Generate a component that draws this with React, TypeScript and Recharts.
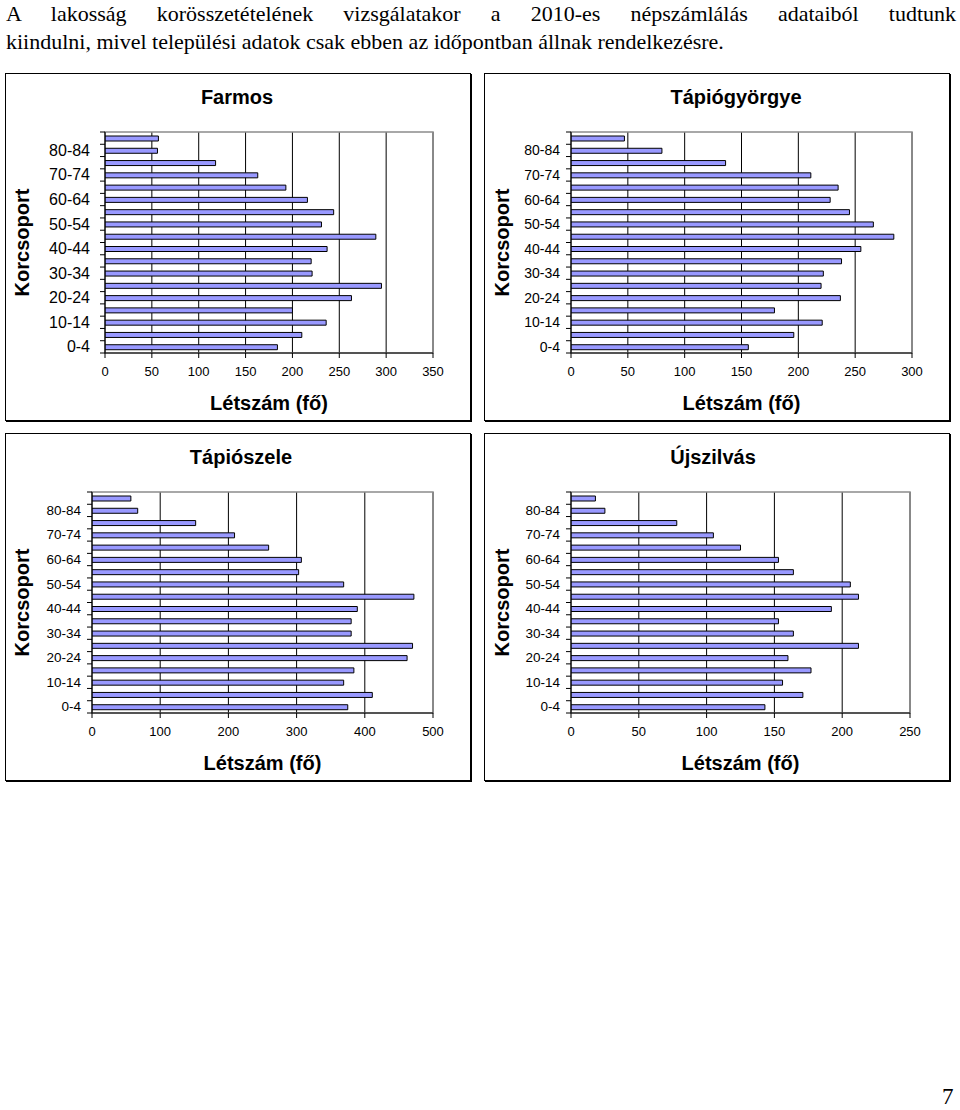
import React from 'react';
import { BarChart, Bar, XAxis, YAxis, CartesianGrid, ReferenceArea } from 'recharts';

// Age groups (bottom to top)
const AGE_GROUPS = ['0-4', '5-9', '10-14', '15-19', '20-24', '25-29', '30-34', '35-39', '40-44', '45-49', '50-54', '55-59', '60-64', '65-69', '70-74', '75-79', '80-84', '85+'];
const LABELED_GROUPS = ['0-4', '10-14', '20-24', '30-34', '40-44', '50-54', '60-64', '70-74', '80-84'];

// Population per age group (same order as AGE_GROUPS)
const FARMOS = [184, 210, 236, 200, 263, 295, 221, 220, 237, 289, 231, 244, 216, 193, 163, 118, 56, 57];
const TAPIOGYORGYE = [156, 196, 221, 179, 237, 220, 222, 238, 255, 284, 266, 245, 228, 235, 211, 136, 80, 47];
const TAPIOSZELE = [375, 411, 369, 384, 462, 470, 380, 380, 389, 472, 369, 303, 307, 259, 209, 152, 67, 57];
const UJSZILVAS = [143, 171, 156, 177, 160, 212, 164, 153, 192, 212, 206, 164, 153, 125, 105, 78, 25, 18];

const FARMOS_TICKS = [0, 50, 100, 150, 200, 250, 300, 350];
const TAPIOGYORGYE_TICKS = [0, 50, 100, 150, 200, 250, 300];
const TAPIOSZELE_TICKS = [0, 100, 200, 300, 400, 500];
const UJSZILVAS_TICKS = [0, 50, 100, 150, 200, 250];

const TITLE_LINE_1 = 'A lakosság korösszetételének vizsgálatakor a 2010-es népszámlálás adataiból tudtunk';
const TITLE_LINE_2 = 'kiindulni, mivel települési adatok csak ebben az időpontban állnak rendelkezésre.';
const X_TITLE = 'Létszám (fő)';
const Y_TITLE = 'Korcsoport';

const PANEL_W = 466;
const PANEL_H = 348;
const PLOT_TOP = 59;
const PLOT_BOTTOM = 280;
const PLOT_H = PLOT_BOTTOM - PLOT_TOP;
const BAND = PLOT_H / AGE_GROUPS.length;
const TICK_SIZE = 5;

const FONT = '"Liberation Sans", Arial, sans-serif';

type PanelCfg = {
  title: string;
  values: number[];
  ticks: number[];
  left: number;
  top: number;
  plotLeft: number;
  marginRight: number;
  titleCx: number;
  yTitleX: number;
  yTickFont: number;
  yTickMargin: number;
};

const PANELS: PanelCfg[] = [
  { title: 'Farmos', values: FARMOS, ticks: FARMOS_TICKS, left: 5, top: 73, plotLeft: 100, marginRight: 38, titleCx: 232, yTitleX: 17, yTickFont: 16, yTickMargin: 10 },
  { title: 'Tápiógyörgye', values: TAPIOGYORGYE, ticks: TAPIOGYORGYE_TICKS, left: 484, top: 73, plotLeft: 87, marginRight: 38, titleCx: 252, yTitleX: 18, yTickFont: 14, yTickMargin: 6 },
  { title: 'Tápiószele', values: TAPIOSZELE, ticks: TAPIOSZELE_TICKS, left: 5, top: 433, plotLeft: 87, marginRight: 38, titleCx: 236, yTitleX: 17, yTickFont: 13.5, yTickMargin: 6 },
  { title: 'Újszilvás', values: UJSZILVAS, ticks: UJSZILVAS_TICKS, left: 484, top: 433, plotLeft: 87, marginRight: 40, titleCx: 229, yTitleX: 18, yTickFont: 13.5, yTickMargin: 6 },
];

const makeYTick = (fontSize: number, tickMargin: number) => (props: any) => {
  const { x, y, payload } = props;
  const value = payload && payload.value;
  const axisX = x + TICK_SIZE + tickMargin;
  const isTop = value === AGE_GROUPS[AGE_GROUPS.length - 1];
  return (
    <g>
      <line x1={axisX - TICK_SIZE} x2={axisX} y1={y + BAND / 2} y2={y + BAND / 2} stroke="#000" strokeWidth={1} />
      {isTop && <line x1={axisX - TICK_SIZE} x2={axisX} y1={y - BAND / 2} y2={y - BAND / 2} stroke="#000" strokeWidth={1} />}
      {LABELED_GROUPS.includes(value) && (
        <text x={x} y={y} textAnchor="end" dominantBaseline="central" fontSize={fontSize} fill="#000" fontFamily={FONT}>
          {value}
        </text>
      )}
    </g>
  );
};

const makeXTitle = () => (props: any) => {
  const vb = props.viewBox || { x: 0, y: 0, width: 0, height: 0 };
  return (
    <text x={vb.x + vb.width / 2} y={vb.y + 50} textAnchor="middle" dominantBaseline="central" fontSize={20} fontWeight="bold" fill="#000" fontFamily={FONT}>
      {X_TITLE}
    </text>
  );
};

const makeYTitle = (cx: number) => (props: any) => {
  const vb = props.viewBox || { x: 0, y: 0, width: 0, height: 0 };
  const cy = vb.y + vb.height / 2;
  return (
    <text x={cx} y={cy} transform={`rotate(-90, ${cx}, ${cy})`} textAnchor="middle" dominantBaseline="central" fontSize={20} fontWeight="bold" fill="#000" fontFamily={FONT}>
      {Y_TITLE}
    </text>
  );
};

function Panel({ cfg }: { cfg: PanelCfg }) {
  const data = AGE_GROUPS.map((age, i) => ({ age, value: cfg.values[i] }));
  const max = cfg.ticks[cfg.ticks.length - 1];
  return (
    <div
      style={{
        position: 'absolute',
        left: cfg.left,
        top: cfg.top,
        width: PANEL_W,
        height: PANEL_H,
        boxSizing: 'border-box',
        border: '1px solid #000',
        boxShadow: '1px 1px 0 #000',
        background: '#fff',
      }}
    >
      <div
        style={{
          position: 'absolute',
          left: cfg.titleCx - 150 - 1,
          top: 24 - 12 - 1,
          width: 300,
          lineHeight: '24px',
          textAlign: 'center',
          fontSize: 20,
          fontWeight: 'bold',
          fontFamily: FONT,
          color: '#000',
        }}
      >
        {cfg.title}
      </div>
      <div style={{ position: 'absolute', left: -1, top: -1 }}>
        <BarChart
          width={PANEL_W}
          height={PANEL_H}
          data={data}
          layout="vertical"
          margin={{ top: PLOT_TOP, right: cfg.marginRight, bottom: 0, left: 0 }}
          barCategoryGap={0}
        >
          <CartesianGrid horizontal={false} vertical={true} stroke="#000" strokeDasharray="" />
          <ReferenceArea
            x1={0}
            x2={max}
            y1={AGE_GROUPS[AGE_GROUPS.length - 1]}
            y2={AGE_GROUPS[0]}
            fill="none"
            fillOpacity={0}
            stroke="#8c8c8c"
            strokeWidth={1.5}
            ifOverflow="visible"
          />
          <Bar dataKey="value" fill="#9999FF" stroke="#000" strokeWidth={1} barSize={5} isAnimationActive={false} />
          <XAxis
            type="number"
            domain={[0, max]}
            ticks={cfg.ticks}
            interval={0}
            allowDataOverflow
            height={PANEL_H - PLOT_BOTTOM}
            tickSize={TICK_SIZE}
            tickMargin={9}
            tick={{ fontSize: 13, fill: '#000', fontFamily: FONT }}
            axisLine={{ stroke: '#000' }}
            tickLine={{ stroke: '#000' }}
            label={makeXTitle()}
          />
          <YAxis
            type="category"
            dataKey="age"
            reversed
            interval={0}
            width={cfg.plotLeft}
            tickSize={TICK_SIZE}
            tickMargin={cfg.yTickMargin}
            tickLine={false}
            axisLine={{ stroke: '#000' }}
            tick={makeYTick(cfg.yTickFont, cfg.yTickMargin)}
            label={makeYTitle(cfg.yTitleX)}
          />
        </BarChart>
      </div>
    </div>
  );
}

export default function App() {
  return (
    <div style={{ position: 'absolute', left: 0, top: 0, width: 960, height: 1110, background: '#fff', fontFamily: FONT }}>
      <div
        style={{
          position: 'absolute',
          left: 6,
          top: 0,
          width: 950,
          fontFamily: '"Liberation Serif", "Times New Roman", serif',
          fontSize: 22,
          lineHeight: '28px',
          color: '#000',
        }}
      >
        <div style={{ textAlign: 'justify', textAlignLast: 'justify', whiteSpace: 'nowrap' as any }}>{TITLE_LINE_1}</div>
        <div style={{ textAlign: 'left' }}>{TITLE_LINE_2}</div>
      </div>
      {PANELS.map((p) => (
        <Panel key={p.title} cfg={p} />
      ))}
      <div
        style={{
          position: 'absolute',
          left: 942,
          top: 1084,
          fontFamily: '"Liberation Serif", "Times New Roman", serif',
          fontSize: 23,
          lineHeight: '26px',
          color: '#000',
        }}
      >
        7
      </div>
    </div>
  );
}
